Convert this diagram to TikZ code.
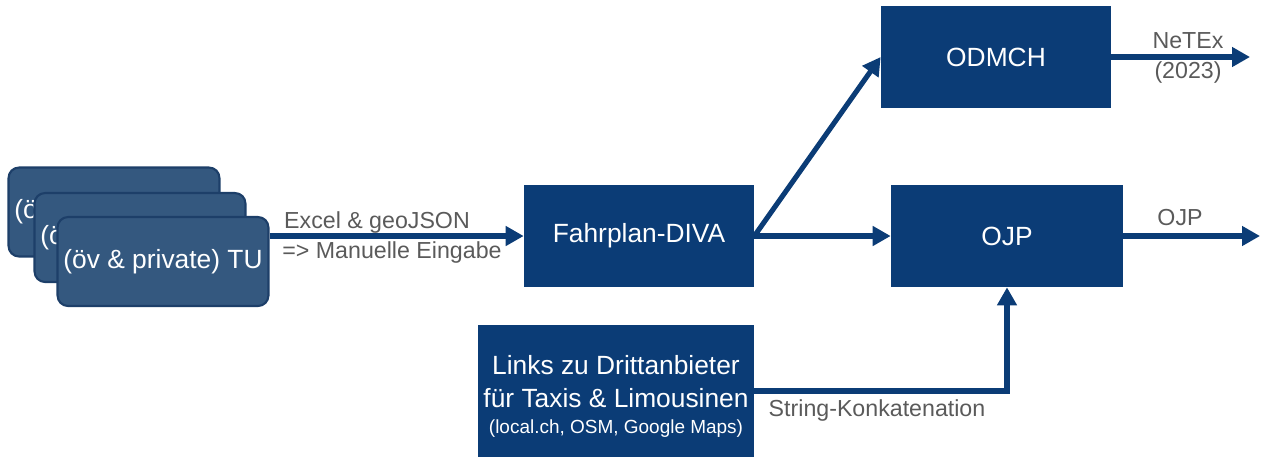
\documentclass[tikz,border=0pt]{standalone}
\usepackage{fontspec}
\setmainfont{Liberation Sans}
\usetikzlibrary{arrows.meta}
\definecolor{navy}{HTML}{0B3C76}
\definecolor{tublue}{HTML}{34587F}
\definecolor{tuedge}{HTML}{1D3F69}
\definecolor{labelgray}{HTML}{5A5A5A}
\tikzset{
  block/.style={fill=navy, text=white, inner sep=0pt, align=center, font=\fontsize{15}{18.7}\selectfont},
  tubox/.style={fill=tublue, draw=tuedge, line width=1.2pt, rounded corners=6pt, text=white, inner sep=0pt, minimum width=4.22cm, minimum height=1.78cm, font=\fontsize{15}{18}\selectfont},
  flow/.style={navy, line width=2.9pt, -{Triangle[length=0.36cm,width=0.38cm]}},
  lbl/.style={text=labelgray, inner sep=0pt, align=center, font=\fontsize{13.2}{17}\selectfont}
}
\begin{document}
\begin{tikzpicture}[x=0.02cm, y=0.02cm]
\useasboundingbox (0,0) rectangle (1263,-457);
\node (tu1) at (114,-212) [tubox] {(öv \& private) TU};
\node (tu2) at (140,-237.5) [tubox] {(öv \& private) TU};
\node (tu3) at (163,-261.5) [tubox] {(öv \& private) TU};
\node (diva) at (639,-236) [block, minimum width=4.6cm, minimum height=2.04cm] {Fahrplan-DIVA};
\node (odmch) at (996,-57) [block, minimum width=4.6cm, minimum height=2.04cm] {ODMCH};
\node (ojp) at (1007,-236) [block, minimum width=4.64cm, minimum height=2.04cm] {OJP};
\node (links) at (616,-391) [block, minimum width=5.52cm, minimum height=2.64cm] {\rule{0pt}{17pt}Links zu Drittanbieter\\für Taxis \& Limousinen\\[-4pt]{\fontsize{10.8}{13}\selectfont(local.ch, OSM, Google Maps)}};
\coordinate (netexend) at (1250,-57);
\coordinate (ojpend) at (1260,-236);
\draw [flow] (tu3.east |- diva.west) -- (diva.west);
\draw [flow] (diva.east) -- (odmch.west);
\draw [flow] (diva.east) -- (ojp.west);
\draw [flow] (odmch.east) -- (netexend);
\draw [flow] (ojp.east) -- (ojpend);
\draw [flow] (links.east) -| (ojp.south);
\node (excel) at (377,-222) [lbl] {Excel \& geoJSON};
\node (manuell) at (392,-252) [lbl] {=> Manuelle Eingabe};
\node (netex) at (1188,-58) [lbl] {NeTEx\\(2023)};
\node (ojpout) at (1180,-218) [lbl] {OJP};
\node (konkat) at (877,-410) [lbl] {String-Konkatenation};
\end{tikzpicture}
\end{document}
